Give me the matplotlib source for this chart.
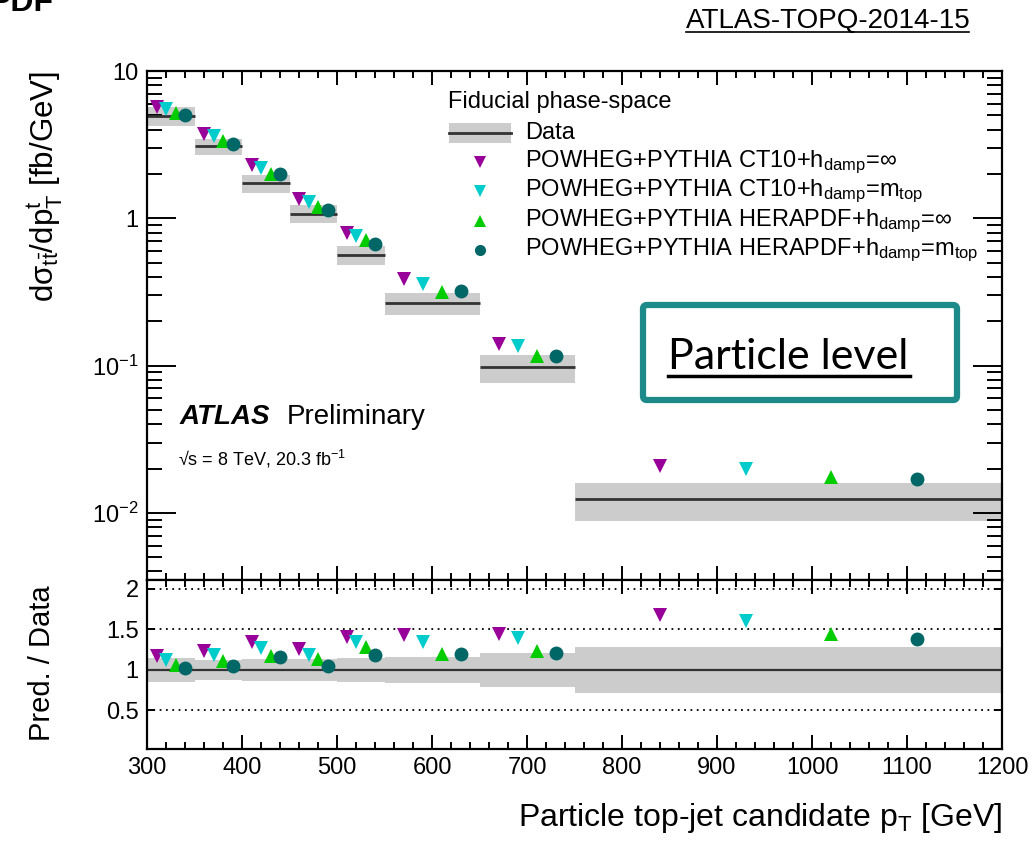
import matplotlib
matplotlib.use('Agg')
import matplotlib.pyplot as plt
from matplotlib.patches import FancyBboxPatch, Rectangle
from matplotlib.lines import Line2D
from matplotlib.ticker import FixedLocator, MultipleLocator, NullFormatter, FixedFormatter
import numpy as np

# ---------------- data ----------------
bin_edges = [300, 350, 400, 450, 500, 550, 650, 750, 1200]
data = [4.94, 3.09, 1.73, 1.077, 0.563, 0.265, 0.0974, 0.01239]
rel_unc = [0.145, 0.123, 0.14, 0.14, 0.145, 0.165, 0.215, 0.285]

pred_ct10_inf = [5.71, 3.73, 2.29, 1.36, 0.80, 0.385, 0.1406, 0.0209]
pred_ct10_mtop = [5.51, 3.63, 2.20, 1.29, 0.758, 0.356, 0.135, 0.0198]
pred_hera_inf = [5.20, 3.34, 2.01, 1.20, 0.708, 0.315, 0.117, 0.0176]
pred_hera_mtop = [5.02, 3.20, 1.99, 1.13, 0.666, 0.319, 0.117, 0.0169]

ratio_ct10_inf = [1.17, 1.23, 1.34, 1.26, 1.41, 1.43, 1.44, 1.68]
ratio_ct10_mtop = [1.12, 1.185, 1.275, 1.19, 1.35, 1.34, 1.39, 1.60]
ratio_hera_inf = [1.06, 1.11, 1.17, 1.13, 1.28, 1.20, 1.23, 1.44]
ratio_hera_mtop = [1.03, 1.05, 1.16, 1.05, 1.19, 1.20, 1.21, 1.38]

labels = [r'POWHEG+PYTHIA CT10+h$_{\mathrm{damp}}$=$\infty$',
          r'POWHEG+PYTHIA CT10+h$_{\mathrm{damp}}$=m$_{\mathrm{top}}$',
          r'POWHEG+PYTHIA HERAPDF+h$_{\mathrm{damp}}$=$\infty$',
          r'POWHEG+PYTHIA HERAPDF+h$_{\mathrm{damp}}$=m$_{\mathrm{top}}$']
x_ticks = [300, 400, 500, 600, 700, 800, 900, 1000, 1100, 1200]
y_major = [0.01, 0.1, 1, 10]
y_major_labels = [r'10$^{\mathrm{-2}}$', r'10$^{\mathrm{-1}}$', '1', '10']
ratio_ticks = [0.5, 1.0, 1.5, 2.0]
ratio_tick_labels = ['0.5', '1', '1.5', '2']

# ---------------- style ----------------
plt.rcParams['font.family'] = ['Liberation Sans', 'DejaVu Sans']
plt.rcParams['mathtext.fontset'] = 'custom'
plt.rcParams['mathtext.rm'] = 'Liberation Sans'
plt.rcParams['mathtext.it'] = 'Liberation Sans:italic'
plt.rcParams['mathtext.bf'] = 'Liberation Sans:bold'
plt.rcParams['mathtext.default'] = 'rm'

colors = ['#990099', '#00cccc', '#00cc00', '#006666']
markers = ['v', 'v', '^', 'o']
offsets = [0.2, 0.4, 0.6, 0.8]
band_color = '#cccccc'
line_color = '#333333'

W, H = 1032, 843
fig = plt.figure(figsize=(W / 100, H / 100), dpi=100)

def fx(px):
    return px / W

def fy(py):
    return 1 - py / H

ax = fig.add_axes([fx(147), fy(580), (1002 - 147) / W, (580 - 71) / H])
rax = fig.add_axes([fx(147), fy(749), (1002 - 147) / W, (749 - 580) / H])

edges = np.array(bin_edges, dtype=float)
lo, hi = edges[:-1], edges[1:]
wid = hi - lo
d = np.array(data)
e = np.array(rel_unc)

preds = [pred_ct10_inf, pred_ct10_mtop, pred_hera_inf, pred_hera_mtop]
ratios = [ratio_ct10_inf, ratio_ct10_mtop, ratio_hera_inf, ratio_hera_mtop]

# main panel
ax.bar(lo, 2 * e * d, bottom=d * (1 - e), width=wid, align='edge',
       color=band_color, linewidth=0, zorder=1)
ax.hlines(d, lo, hi, color=line_color, lw=2, zorder=2)
for p, c, m, o in zip(preds, colors, markers, offsets):
    ax.plot(lo + o * wid, p, ls='none', marker=m, color=c, ms=10 if m == 'o' else 10.5,
            mec=c, mew=0, zorder=3)

ax.set_yscale('log')
ax.set_xlim(300, 1200)
ax.set_ylim(3.5e-3, 10)
ax.yaxis.set_major_locator(FixedLocator(y_major))
ax.yaxis.set_major_formatter(FixedFormatter(y_major_labels))
minors = [m * 10.0 ** k for k in range(-3, 1) for m in range(2, 10)]
ax.yaxis.set_minor_locator(FixedLocator(minors))
ax.yaxis.set_minor_formatter(NullFormatter())
ax.xaxis.set_major_locator(FixedLocator(x_ticks))
ax.xaxis.set_minor_locator(MultipleLocator(20))
ax.tick_params(axis='x', which='both', labelbottom=False)
ax.tick_params(which='both', direction='in', top=True, right=True, width=1.4,
               labelsize=17, colors='black')
ax.tick_params(axis='y', which='major', length=21, pad=6)
ax.tick_params(axis='y', which='minor', length=11)
ax.tick_params(axis='x', which='major', length=10)
ax.tick_params(axis='x', which='minor', length=5)
for s in ax.spines.values():
    s.set_linewidth(1.6)

# ratio panel
rax.bar(lo, 2 * e, bottom=1 - e, width=wid, align='edge', color=band_color,
        linewidth=0, zorder=1)
for v in [0.5, 1.5, 2.0]:
    rax.axhline(v, color='black', lw=1.3, ls=(0, (1, 2.5)), zorder=0)
rax.axhline(1.0, color=line_color, lw=1.6, zorder=2)
for r, c, m, o in zip(ratios, colors, markers, offsets):
    rax.plot(lo + o * wid, r, ls='none', marker=m, color=c, ms=10 if m == 'o' else 10.5,
             mec=c, mew=0, zorder=3)
rax.set_xlim(300, 1200)
rax.set_ylim(0.025, 2.11)
rax.yaxis.set_major_locator(FixedLocator(ratio_ticks))
rax.yaxis.set_major_formatter(FixedFormatter(ratio_tick_labels))
rax.xaxis.set_major_locator(FixedLocator(x_ticks))
rax.xaxis.set_minor_locator(MultipleLocator(20))
rax.tick_params(which='both', direction='in', top=True, right=True, width=1.4,
                labelsize=17, colors='black')
rax.tick_params(axis='y', which='major', length=6, pad=6)
rax.tick_params(axis='x', which='major', length=10, pad=6)
rax.tick_params(axis='x', which='minor', length=5)
for s in rax.spines.values():
    s.set_linewidth(1.6)

# axis titles
fig.text(fx(45), fy(71), r'd$\mathrm{\sigma_{t\bar{t}}}$/dp$^{\mathrm{t}}_{\mathrm{T}}$ [fb/GeV]',
         rotation=90, ha='center', va='top', fontsize=22.5)
fig.text(fx(42), fy(585), 'Pred. / Data', rotation=90, ha='center', va='top', fontsize=21)
fig.text(fx(1002), fy(818), r'Particle top-jet candidate p$_{\mathrm{T}}$ [GeV]',
         ha='right', va='center', fontsize=23)

# ATLAS label
fig.text(fx(180), fy(424), 'ATLAS', fontsize=20, fontweight='bold', fontstyle='italic',
         ha='left', va='baseline')
fig.text(fx(287), fy(424), 'Preliminary', fontsize=20, ha='left', va='baseline')
fig.text(fx(178), fy(466), '\u221as = 8 TeV, 20.3 fb$^{-1}$', fontsize=13,
         ha='left', va='baseline')

# legend (drawn manually, ROOT-style)
fig.text(fx(448), fy(108), 'Fiducial phase-space', fontsize=17, ha='left', va='baseline')
fig.patches.append(Rectangle((fx(449), fy(143)), fx(511) - fx(449), fy(123) - fy(143),
                             transform=fig.transFigure, facecolor=band_color,
                             edgecolor='none', figure=fig))
fig.lines.append(Line2D([fx(449), fx(511)], [fy(133), fy(133)], transform=fig.transFigure,
                        color=line_color, lw=2, figure=fig))
fig.text(fx(525), fy(133), 'Data', fontsize=17, ha='left', va='center')
row_y = [162, 191, 221, 250]
for lab, c, m, yy in zip(labels, colors, markers, row_y):
    fig.lines.append(Line2D([fx(480)], [fy(yy)], transform=fig.transFigure, ls='none',
                            marker=m, color=c, ms=8 if m == 'o' else 8.5, mew=0, figure=fig))
    fig.text(fx(525), fy(yy), lab, fontsize=17, ha='left', va='center')

# Particle level box
box = FancyBboxPatch((643 / 100, (H - 400) / 100), (957 - 643) / 100, (400 - 305) / 100,
                     boxstyle='round,pad=0,rounding_size=0.04',
                     transform=fig.dpi_scale_trans, facecolor='white',
                     edgecolor='#1b8a88', linewidth=4.5, figure=fig, zorder=5)
fig.patches.append(box)
fig.text(fx(668), fy(369), 'Particle level', fontsize=31, ha='left', va='baseline',
         family=['Lato', 'Liberation Sans'], zorder=6)
fig.lines.append(Line2D([fx(668), fx(910)], [fy(376), fy(376)], transform=fig.transFigure,
                        color='black', lw=2.5, figure=fig, zorder=6))

# header texts
fig.text(fx(686), fy(28), 'ATLAS-TOPQ-2014-15', fontsize=20, ha='left', va='baseline')
fig.lines.append(Line2D([fx(686), fx(969)], [fy(32), fy(32)], transform=fig.transFigure,
                        color='black', lw=1.2, figure=fig))
fig.text(fx(-10), fy(11), 'PDF', fontsize=23, fontweight='bold', ha='left', va='baseline')

fig.savefig('out.png', dpi=100)
